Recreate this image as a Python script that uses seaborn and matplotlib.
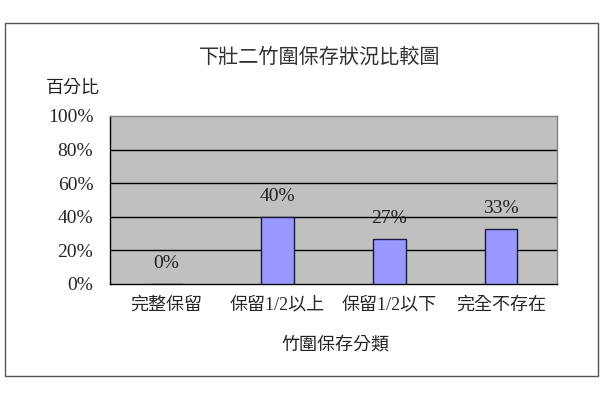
import pandas as pd
import seaborn as sns
import matplotlib.pyplot as plt
from matplotlib.patches import Rectangle
from matplotlib.ticker import FixedLocator

categories = ["完整保留", "保留1/2以上", "保留1/2以下", "完全不存在"]
percents = [0, 40, 27, 33]
y_ticks = [0, 20, 40, 60, 80, 100]

TITLE = "下壯二竹圍保存狀況比較圖"
Y_LABEL = "百分比"
X_LABEL = "竹圍保存分類"


def main():
    sns.set_theme(style="white")
    plt.rcParams["font.family"] = ["Liberation Serif", "Noto Sans CJK TC", "DejaVu Sans"]

    df = pd.DataFrame({"cat": categories, "pct": percents})

    fig = plt.figure(figsize=(6, 4), dpi=100)
    fig.patch.set_facecolor("white")
    ax = fig.add_axes([110 / 600, 1 - 284 / 400, 447 / 600, 168 / 400])
    ax.set_facecolor("#C0C0C0")

    sns.barplot(data=df, x="cat", y="pct", ax=ax, color="#9999FF",
                width=0.29, edgecolor="#1a1a40", linewidth=1, saturation=1, zorder=3)

    ax.set_ylim(0, 100)
    ax.set_xlim(-0.5, len(categories) - 0.5)
    ax.set_yticks(y_ticks)
    ax.set_yticklabels([f"{t}%" for t in y_ticks], fontsize=14)
    ax.tick_params(axis="y", length=0, pad=12)
    ax.tick_params(axis="x", length=0, pad=9, labelsize=13)
    ax.xaxis.set_minor_locator(FixedLocator([0.5, 1.5, 2.5]))
    ax.tick_params(axis="x", which="minor", direction="in", length=5, width=0.8, color="black")

    for t in y_ticks[1:-1]:
        ax.axhline(t, color="black", lw=1, zorder=1)

    ax.set_xlabel("")
    ax.set_ylabel("")
    for side in ["left", "bottom"]:
        ax.spines[side].set_color("black")
        ax.spines[side].set_linewidth(1)
    for side in ["top", "right"]:
        ax.spines[side].set_color("#808080")
        ax.spines[side].set_linewidth(1)

    for i, v in enumerate(percents):
        ax.annotate(f"{v}%", xy=(i, v), xytext=(0, 20), textcoords="offset pixels",
                    ha="center", va="center", fontsize=14, color="#222222")

    fig.text(320 / 600, 1 - 58 / 400, TITLE, ha="center", va="center", fontsize=14.5, color="#333333")
    fig.text(73 / 600, 1 - 88 / 400, Y_LABEL, ha="center", va="center", fontsize=13, color="#222222")
    fig.text(335 / 600, 1 - 345 / 400, X_LABEL, ha="center", va="center", fontsize=13, color="#222222")

    fig.patches.append(Rectangle((5 / 600, 1 - 376 / 400), 593 / 600, 353 / 400,
                                 transform=fig.transFigure, fill=False,
                                 edgecolor="#555555", linewidth=1))

    fig.savefig("out.png", dpi=100)
    plt.close(fig)


if __name__ == "__main__":
    main()
